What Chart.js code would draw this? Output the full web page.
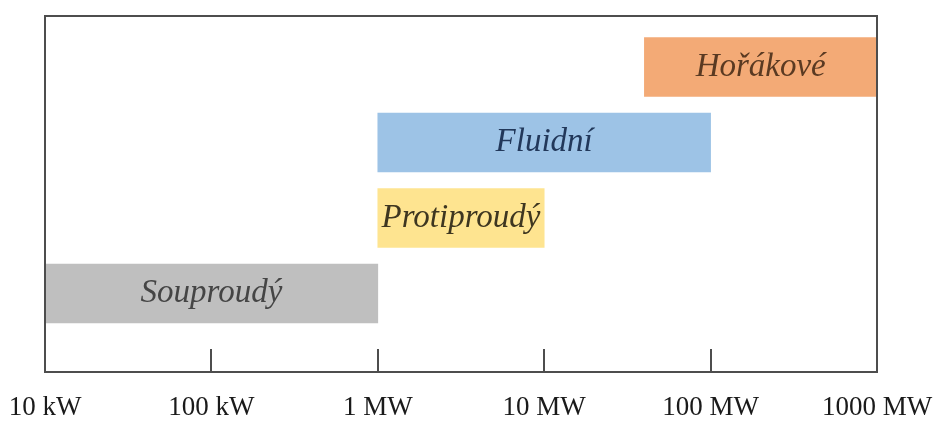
<!DOCTYPE html>
<html><head><meta charset="utf-8">
<script src="https://cdn.jsdelivr.net/npm/chart.js@4"></script>
<style>html,body{margin:0;padding:0;background:#fff}#wrap{width:936px;height:421px;position:relative}</style>
</head><body><div id="wrap"><canvas id="c"></canvas></div>
<script>
const categories = ['Hořákové', 'Fluidní', 'Protiproudý', 'Souproudý'];
const rangeStartKW = [40000, 1000, 1000, 10];
const rangeEndKW = [1000000, 100000, 10000, 1000];
const tickValuesKW = [10, 100, 1000, 10000, 100000, 1000000];
const tickLabels = ['10 kW', '100 kW', '1 MW', '10 MW', '100 MW', '1000 MW'];

const barColors = ['#F3AA76', '#9DC3E6', '#FEE490', '#BFBFBF'];
const labelColors = ['#5a3a22', '#22385a', '#3e3620', '#454545'];

const decor = {
  id: 'decor',
  afterDatasetsDraw(chart) {
    const {ctx, chartArea: a, scales: {x}} = chart;
    ctx.save();
    const meta = chart.getDatasetMeta(0);
    ctx.font = 'italic 33px "Liberation Serif", serif';
    ctx.textAlign = 'center';
    ctx.textBaseline = 'middle';
    meta.data.forEach((bar, i) => {
      const p = bar.getProps(['x', 'base', 'y'], true);
      ctx.fillStyle = labelColors[i];
      ctx.fillText(categories[i], (p.x + p.base) / 2, p.y);
    });
    ctx.strokeStyle = '#4d4d4d';
    ctx.lineWidth = 2;
    ctx.strokeRect(a.left, a.top, a.right - a.left, a.bottom - a.top);
    x.ticks.forEach((t, i) => {
      if (i === 0 || i === x.ticks.length - 1) return;
      const px = Math.round(x.getPixelForValue(t.value));
      ctx.beginPath();
      ctx.moveTo(px, a.bottom);
      ctx.lineTo(px, a.bottom - 23);
      ctx.stroke();
    });
    ctx.restore();
  }
};

new Chart(document.getElementById('c'), {
  type: 'bar',
  data: {
    datasets: [{
      data: categories.map((c, i) => ({x: [rangeStartKW[i], rangeEndKW[i]], y: i})),
      backgroundColor: barColors,
      borderWidth: 0,
      borderSkipped: false,
      barThickness: 59
    }]
  },
  options: {
    indexAxis: 'y',
    responsive: true,
    maintainAspectRatio: false,
    animation: false,
    layout: {padding: {left: 45, right: 59, top: 16, bottom: 0}},
    plugins: {legend: {display: false}, tooltip: {enabled: false}},
    scales: {
      x: {
        type: 'logarithmic',
        position: 'bottom',
        min: 10,
        max: 1000000,
        grid: {display: false, drawTicks: false},
        border: {display: false},
        afterBuildTicks: s => { s.ticks = tickValuesKW.map(v => ({value: v})); },
        afterFit: s => { s.paddingLeft = 0; s.paddingRight = 0; s.height = 49; },
        ticks: {
          autoSkip: false,
          maxRotation: 0,
          padding: 20,
          color: '#1a1a1a',
          font: {family: '"Liberation Serif", serif', size: 27},
          callback: (v) => { const i = tickValuesKW.indexOf(v); return i >= 0 ? tickLabels[i] : ''; }
        }
      },
      y: {
        type: 'linear',
        display: false,
        reverse: true,
        offset: false,
        min: -0.675,
        max: 4.04,
        grid: {offset: false},
        afterBuildTicks: s => { s.ticks = categories.map((c, i) => ({value: i})); }
      }
    }
  },
  plugins: [decor]
});
</script>
</body></html>
